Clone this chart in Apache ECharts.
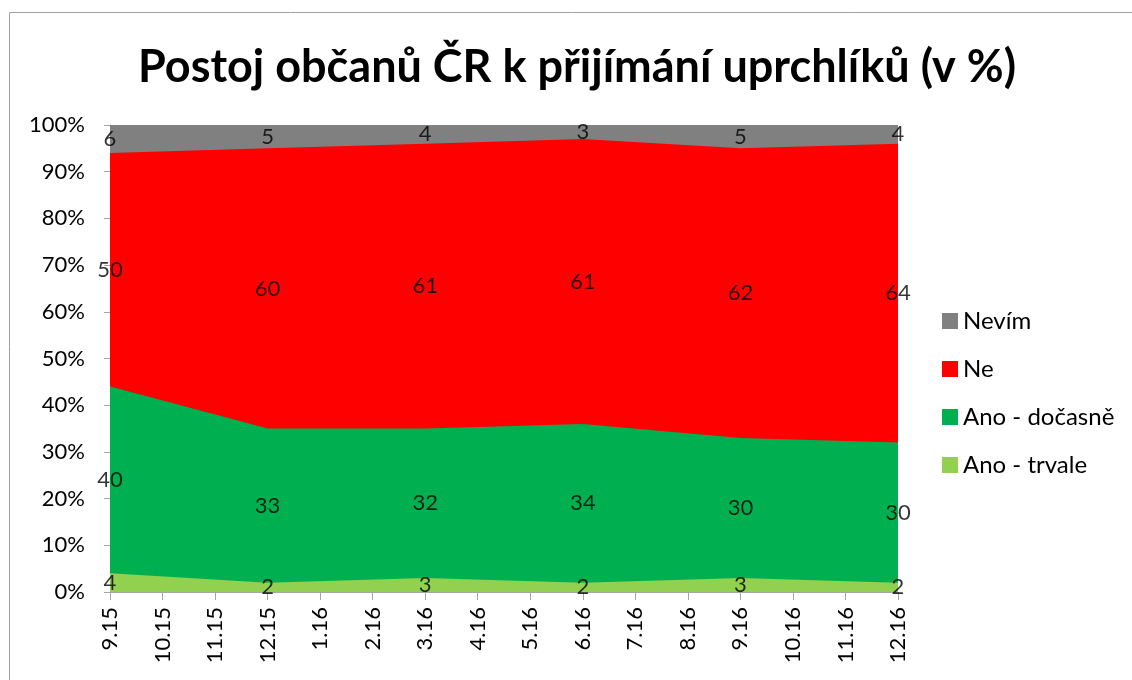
<!DOCTYPE html>
<html>
<head>
<meta charset="utf-8">
<script src="https://cdn.jsdelivr.net/npm/echarts@6/dist/echarts.min.js"></script>
<style>html,body{margin:0;padding:0;background:#fff}#c{width:1132px;height:680px}</style>
</head>
<body>
<div id="c"></div>
<script>
var tickLabels = ['9.15','10.15','11.15','12.15','1.16','2.16','3.16','4.16','5.16','6.16','7.16','8.16','9.16','10.16','11.16','12.16'];
var pointIndex = [0, 3, 6, 9, 12, 15];
var anoTrvale = [4, 2, 3, 2, 3, 2];
var anoDocasne = [40, 33, 32, 34, 30, 30];
var ne = [50, 60, 61, 61, 62, 64];
var nevim = [6, 5, 4, 3, 5, 4];
var seriesNames = ['Ano - trvale', 'Ano - dočasně', 'Ne', 'Nevím'];
var seriesColors = ['#92D050', '#00B050', '#FF0000', '#808080'];

var FONT = 'Lato, "Open Sans", sans-serif';
var all = [anoTrvale, anoDocasne, ne, nevim];
var series = [];
// 100% stacked areas: each series drawn from 0 up to its cumulative sum,
// upper layers behind lower ones
all.forEach(function (arr, i) {
  series.push({
    name: seriesNames[i], type: 'line',
    showSymbol: false, symbol: 'none',
    lineStyle: { width: 0 },
    itemStyle: { color: seriesColors[i] },
    areaStyle: { color: seriesColors[i], opacity: 1 },
    data: arr.map(function (v, j) {
      var cum = 0;
      for (var k = 0; k <= i; k++) cum += all[k][j];
      return [pointIndex[j], cum];
    }),
    z: 10 - i
  });
});
// labels at segment centres
all.forEach(function (arr, i) {
  series.push({
    name: 'lbl' + i, type: 'scatter', symbolSize: 1,
    itemStyle: { color: 'rgba(0,0,0,0)' },
    silent: true, z: 20,
    label: { show: true, position: 'inside', color: '#000', fontSize: 22, fontFamily: FONT,
      formatter: function (p) { return p.data[2]; } },
    data: arr.map(function (v, j) {
      var below = 0;
      for (var k = 0; k < i; k++) below += all[k][j];
      return [pointIndex[j], below + v / 2, v];
    })
  });
});

var chart = echarts.init(document.getElementById('c'), null, { renderer: 'canvas' });
chart.setOption({
  backgroundColor: '#fff',
  animation: false,
  title: {
    text: 'Postoj občanů ČR k přijímání uprchlíků (v %)',
    left: 572, top: 40, textAlign: 'center',
    textStyle: { fontFamily: FONT, fontWeight: 'bold', fontSize: 45, color: '#000' }
  },
  legend: {
    data: ['Nevím', 'Ne', 'Ano - dočasně', 'Ano - trvale'],
    orient: 'vertical', left: 937, top: 304,
    icon: 'rect', itemWidth: 16, itemHeight: 16, itemGap: 24,
    textStyle: { fontFamily: FONT, fontSize: 24, lineHeight: 24, color: '#000' }
  },
  grid: { left: 110, right: 234, top: 125, bottom: 88, containLabel: false },
  xAxis: {
    type: 'value', min: 0, max: 15, interval: 1,
    axisLine: { show: true, lineStyle: { color: '#a6a6a6' } },
    axisTick: { show: true, length: 8, lineStyle: { color: '#a6a6a6' } },
    splitLine: { show: false },
    axisLabel: { rotate: 90, margin: 15, fontSize: 22, fontFamily: FONT, color: '#000',
      formatter: function (v) { return tickLabels[v]; } }
  },
  yAxis: {
    type: 'value', min: 0, max: 100, interval: 10,
    axisLine: { show: true, lineStyle: { color: '#a6a6a6' } },
    axisTick: { show: true, length: 6, lineStyle: { color: '#a6a6a6' } },
    splitLine: { show: false },
    axisLabel: { margin: 25, fontSize: 22, fontFamily: FONT, color: '#000',
      formatter: '{value}%' }
  },
  graphic: [{
    type: 'rect', shape: { x: 9.5, y: 12.5, width: 1300, height: 900 },
    style: { fill: 'none', stroke: '#a0a0a0', lineWidth: 1 }, z: 100
  }],
  series: series
});
</script>
</body>
</html>
